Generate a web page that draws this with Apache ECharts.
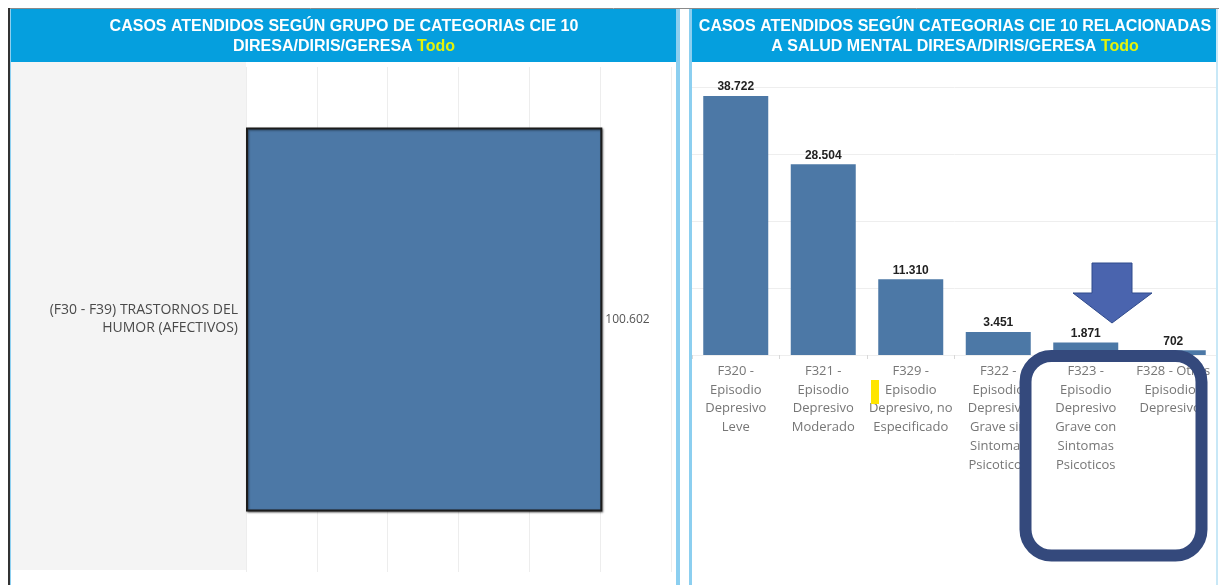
<!DOCTYPE html>
<html>
<head>
<meta charset="utf-8">
<script src="https://cdn.jsdelivr.net/npm/echarts@6/dist/echarts.min.js"></script>
<style>
html, body { margin: 0; padding: 0; background: #fff; }
#main { width: 1219px; height: 585px; }
</style>
</head>
<body>
<div id="main"></div>
<script>
// datos del grafico izquierdo (grupo de categorias)
var groupCategories = ['(F30 - F39) TRASTORNOS DEL\nHUMOR (AFECTIVOS)'];
var groupValues = [100602];

// datos del grafico derecho (categorias salud mental)
var mentalCategories = [
    'F320 -\nEpisodio\nDepresivo\nLeve',
    'F321 -\nEpisodio\nDepresivo\nModerado',
    'F329 -\nEpisodio\nDepresivo, no\nEspecificado',
    'F322 -\nEpisodio\nDepresivo\nGrave sin\nSintomas\nPsicoticos',
    'F323 -\nEpisodio\nDepresivo\nGrave con\nSintomas\nPsicoticos',
    'F328 - Otros\nEpisodios\nDepresivos'
];
var mentalValues = [38722, 28504, 11310, 3451, 1871, 702];

var headerLeft = ['CASOS ATENDIDOS SEGÚN GRUPO DE CATEGORIAS CIE 10', 'DIRESA/DIRIS/GERESA'];
var headerRight = ['CASOS ATENDIDOS SEGÚN CATEGORIAS CIE 10 RELACIONADAS', 'A SALUD MENTAL DIRESA/DIRIS/GERESA'];
var filterText = 'Todo';

function fmt(v) {
    return String(v).replace(/\B(?=(\d{3})+(?!\d))/g, '.');
}

var barColor = '#4c78a6';
var headerBlue = '#059fde';
var lightBlue = '#8ccff0';

var myChart = echarts.init(document.getElementById('main'));

// en graphic el color del texto va en "fill"
var headerRich = {
    w: { fill: '#fff', fontSize: 16, fontWeight: 'bold', fontFamily: 'Liberation Sans, Arial', lineHeight: 20 },
    y: { fill: '#e4f20a', fontSize: 16, fontWeight: 'bold', fontFamily: 'Liberation Sans, Arial', lineHeight: 20 }
};

var option = {
    animation: false,
    backgroundColor: '#fff',
    graphic: [
        // bordes y fondos
        { type: 'rect', z: 0, shape: { x: 11, y: 62, width: 235, height: 508 }, style: { fill: '#f4f4f4' } },
        { type: 'line', z: 100, shape: { x1: 8, y1: 8.5, x2: 1219, y2: 8.5 }, style: { stroke: '#8a8a8a', lineWidth: 1 } },
        { type: 'rect', z: 100, shape: { x: 8, y: 8, width: 2, height: 577 }, style: { fill: '#333' } },
        { type: 'rect', z: 100, shape: { x: 10, y: 9, width: 1, height: 576 }, style: { fill: lightBlue } },
        { type: 'rect', z: 100, shape: { x: 676, y: 9, width: 4, height: 576 }, style: { fill: lightBlue } },
        { type: 'rect', z: 100, shape: { x: 689, y: 9, width: 3, height: 576 }, style: { fill: lightBlue } },
        { type: 'rect', z: 100, shape: { x: 1216, y: 9, width: 2, height: 576 }, style: { fill: '#c8e8f7' } },
        // encabezados
        { type: 'rect', z: 100, shape: { x: 11, y: 9, width: 665, height: 53 }, style: { fill: headerBlue } },
        { type: 'rect', z: 100, shape: { x: 692, y: 9, width: 524, height: 53 }, style: { fill: headerBlue } },
        {
            type: 'text', z: 101, x: 344, y: 37,
            style: {
                text: '{w|' + headerLeft[0] + '}\n{w|' + headerLeft[1] + ' }{y|' + filterText + '}',
                rich: headerRich, fill: '#fff', align: 'center', verticalAlign: 'middle'
            }
        },
        {
            type: 'text', z: 101, x: 955, y: 37,
            style: {
                text: '{w|' + headerRight[0] + '}\n{w|' + headerRight[1] + ' }{y|' + filterText + '}',
                rich: headerRich, fill: '#fff', align: 'center', verticalAlign: 'middle'
            }
        },
        // marca amarilla
        { type: 'rect', z: 100, shape: { x: 871, y: 380, width: 8, height: 24 }, style: { fill: '#ffe500' } },
        // flecha
        {
            type: 'polygon', z: 100,
            shape: { points: [[1092, 263], [1132, 263], [1132, 293], [1152, 293], [1112, 323], [1073, 293], [1092, 293]] },
            style: { fill: '#4a64ae', stroke: '#2f4a8c', lineWidth: 1 }
        },
        // recuadro redondeado
        {
            type: 'rect', z: 100,
            shape: { x: 1025.5, y: 356, width: 176, height: 199.5, r: 26 },
            style: { fill: 'none', stroke: '#34497c', lineWidth: 12 }
        }
    ],
    grid: [
        { left: 246, top: 67, width: 425, height: 505 },
        { left: 692, top: 54, width: 525, height: 301 }
    ],
    xAxis: [
        {
            gridIndex: 0, type: 'value', min: 0, max: 120000, interval: 20000,
            axisLabel: { show: false }, axisLine: { show: false }, axisTick: { show: false },
            splitLine: { lineStyle: { color: '#ededed' } }
        },
        {
            gridIndex: 1, type: 'category', data: mentalCategories,
            axisLine: { show: false },
            axisTick: { show: true, length: 4, lineStyle: { color: '#d8d8d8' } },
            axisLabel: {
                interval: 0, color: '#767676', fontSize: 13, lineHeight: 18.7,
                fontFamily: 'Open Sans', margin: 7
            }
        }
    ],
    yAxis: [
        {
            gridIndex: 0, type: 'category', data: groupCategories,
            axisLine: { show: false }, axisTick: { show: false },
            axisLabel: {
                color: '#4a4a4a', fontSize: 14, lineHeight: 18, fontFamily: 'Open Sans',
                margin: 8, align: 'right', padding: [8, 0, 0, 0]
            }
        },
        {
            gridIndex: 1, type: 'value', min: 0, max: 45000, interval: 10000,
            axisLabel: { show: false }, axisLine: { show: false }, axisTick: { show: false },
            splitLine: { lineStyle: { color: '#eeeeee' } }
        }
    ],
    series: [
        {
            type: 'bar', xAxisIndex: 0, yAxisIndex: 0,
            data: groupValues,
            barWidth: 384,
            itemStyle: {
                color: barColor, borderColor: '#1c1c1c', borderWidth: 2,
                shadowColor: 'rgba(0,0,0,0.45)', shadowOffsetX: 1, shadowOffsetY: 1, shadowBlur: 2
            },
            label: {
                show: true, position: 'right', distance: 3,
                color: '#555', fontSize: 12, fontFamily: 'Open Sans',
                formatter: function (p) { return fmt(p.value); }
            }
        },
        {
            type: 'bar', xAxisIndex: 1, yAxisIndex: 1,
            data: mentalValues,
            barWidth: 65,
            itemStyle: { color: barColor },
            label: {
                show: true, position: 'top', distance: 3,
                color: '#222', fontSize: 12, fontWeight: 'bold', fontFamily: 'Liberation Sans, Arial',
                formatter: function (p) { return fmt(p.value); }
            }
        }
    ]
};

myChart.setOption(option);
window.addEventListener('resize', function () { myChart.resize(); });
</script>
</body>
</html>
